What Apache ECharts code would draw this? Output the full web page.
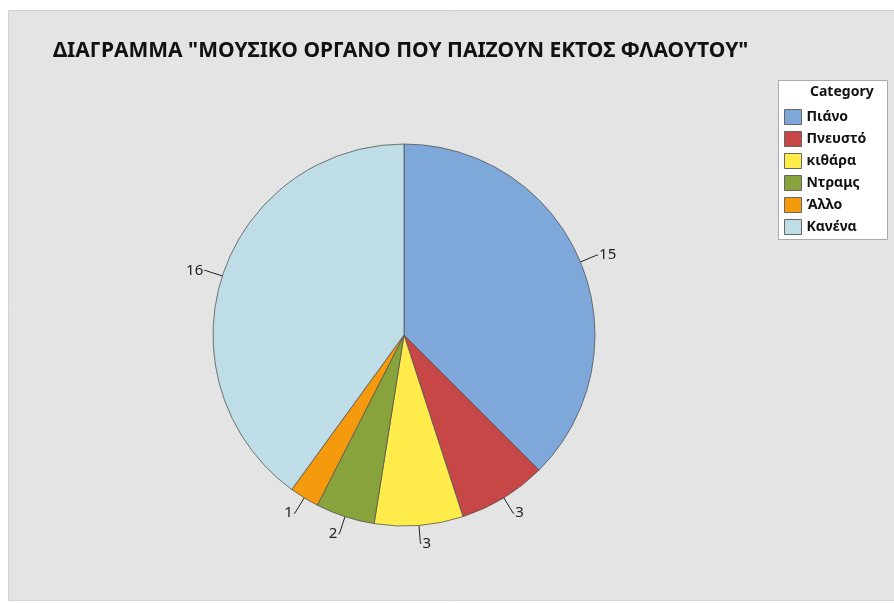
<!DOCTYPE html>
<html>
<head>
<meta charset="utf-8">
<script src="https://cdn.jsdelivr.net/npm/echarts@6/dist/echarts.min.js"></script>
<style>
    html, body { margin: 0; padding: 0; background: #fff; }
    #chart { width: 894px; height: 603px; }
</style>
</head>
<body>
<div id="chart"></div>
<script>
    // data
    const categories = ['Πιάνο', 'Πνευστό', 'κιθάρα', 'Ντραμς', 'Άλλο', 'Κανένα'];
    const counts = [15, 3, 3, 2, 1, 16];
    const colors = ['#7ea8da', '#c74646', '#ffeb4a', '#88a33b', '#f59a0c', '#bedde6'];

    let chart = echarts.init(document.getElementById('chart'));
    chart.setOption({
        backgroundColor: '#fff',
        animation: false,
        title: {
            text: 'ΔΙΑΓΡΑΜΜΑ "ΜΟΥΣΙΚΟ ΟΡΓΑΝΟ ΠΟΥ ΠΑΙΖΟΥΝ ΕΚΤΟΣ ΦΛΑΟΥΤΟΥ"',
            left: 48,
            top: 36,
            textStyle: { fontFamily: 'Noto Sans', fontSize: 21, fontWeight: 'bold', color: '#111' }
        },
        graphic: [
            {   // panel background
                type: 'rect', z: -10, silent: true,
                shape: { x: 8.5, y: 10.5, width: 900, height: 590 },
                style: { fill: '#e4e4e4', stroke: '#d2d2d2', lineWidth: 1 }
            },
            {   // legend box
                type: 'rect', z: 0, silent: true,
                shape: { x: 778.5, y: 80.5, width: 109, height: 159 },
                style: { fill: '#fff', stroke: '#aaa', lineWidth: 1 }
            },
            {
                type: 'text', z: 1, left: 810, top: 85,
                style: { text: 'Category', font: 'bold 14px "Noto Sans"', fill: '#111' }
            }
        ],
        legend: {
            orient: 'vertical',
            left: 779,
            top: 104,
            itemWidth: 17,
            itemHeight: 15,
            itemGap: 6,
            icon: 'rect',
            data: categories,
            itemStyle: { borderColor: '#666', borderWidth: 1 },
            textStyle: { fontFamily: 'Noto Sans', fontSize: 14, fontWeight: 'bold', color: '#111', padding: [0, 0, 0, 0] }
        },
        series: [{
            type: 'pie',
            center: [404, 335],
            radius: 191,
            startAngle: 90,
            clockwise: true,
            data: categories.map((c, i) => ({ name: c, value: counts[i], itemStyle: { color: colors[i] } })),
            itemStyle: { borderColor: '#555', borderWidth: 0.8 },
            label: {
                show: true,
                position: 'outside',
                formatter: '{c}',
                fontFamily: 'Noto Sans',
                fontSize: 15,
                color: '#222',
                distanceToLabelLine: 1
            },
            labelLine: {
                show: true,
                length: 18,
                length2: 1,
                lineStyle: { color: '#222', width: 1 }
            },
            emphasis: { disabled: true }
        }]
    });
</script>
</body>
</html>
